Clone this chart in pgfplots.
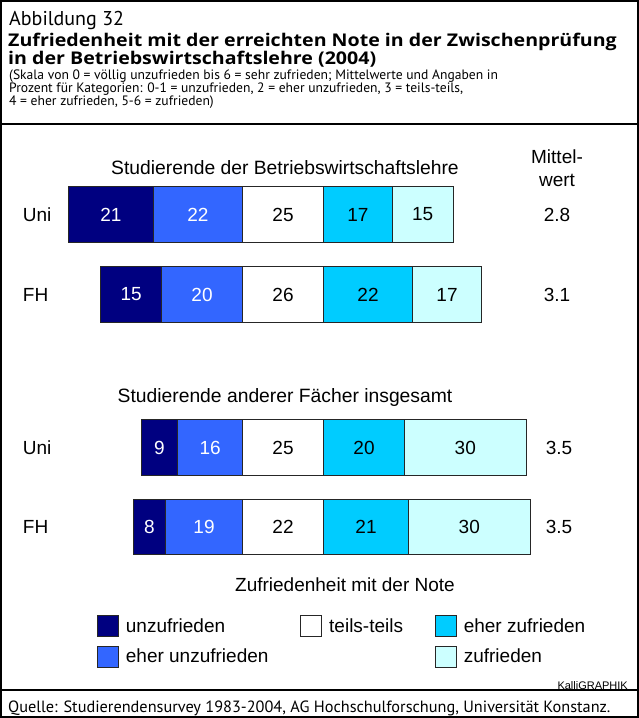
\documentclass[border=0pt]{standalone}
\usepackage{pgfplots}
\pgfplotsset{compat=1.18}
\usepackage{pgfplotstable}
\usepackage{fontspec}
\setmainfont{Liberation Sans}
\newfontfamily\hdr{PT Sans}
\newfontfamily\hdrb{Open Sans}[FakeStretch=1.12]
\definecolor{cU}{HTML}{000080}
\definecolor{cEU}{HTML}{3366FF}
\definecolor{cEZ}{HTML}{00CCFF}
\definecolor{cZ}{HTML}{CCFFFF}

% y = vertical position of bar (px from top); u, eu, tt, ez, z = percent; tw = drawn width of the centred teils-teils box
\pgfplotstableread{
y     u   eu  tt  tw  ez  z
214.5 21  22  25  20  17  15
294.5 15  20  26  20  22  17
447.5 9   16  25  20  20  30
527.0 8   19  22  20  21  30
}\data

\newcommand{\fs}[1]{\fontsize{#1}{#1}\selectfont}
% picture pixel (x, y from top)
\newcommand{\px}[2]{(#1pt,{(718-#2)*1pt})}

\begin{document}
\begin{tikzpicture}
\useasboundingbox (0pt,0pt) rectangle (639pt,718pt);
\begin{axis}[
  scale only axis, width=639pt, height=718pt,
  xmin=-9.877, xmax=147.901, ymin=0, ymax=718, y dir=reverse,
  hide axis, clip=false,
  xbar stacked, bar width=55.6,
  seg/.style={draw=black!85, line width=0.7pt,
    nodes near coords, point meta=explicit symbolic,
    every node near coord/.append style={anchor=center, font=\fs{19}}},
  legend columns=3,
  legend cell align=left,
  legend image code/.code={\draw[#1, draw=black!85, line width=0.7pt] (0pt,-10.5pt) rectangle (21pt,10.5pt);},
  legend style={at={(0.1471,0.1462)}, anchor=north west, draw=none, fill=none,
    font=\fs{19}, row sep=9pt,
    /tikz/every odd column/.append style={column sep=5pt},
    /tikz/every even column/.append style={column sep=30pt}},
]
\addlegendimage{fill=cU}\addlegendentry{unzufrieden}
\addlegendimage{fill=white}\addlegendentry{teils-teils}
\addlegendimage{fill=cEZ}\addlegendentry{eher zufrieden}
\addlegendimage{fill=cEU}\addlegendentry{eher unzufrieden}
\addlegendimage{empty legend}\addlegendentry{}
\addlegendimage{fill=cZ}\addlegendentry{zufrieden}

\addplot[draw=none, fill=none] table[x expr={50-\thisrow{u}-\thisrow{eu}}, y=y] {\data};
\addplot[fill=cU, seg, every node near coord/.append style={text=white}] table[x=u, y=y, meta=u] {\data};
\addplot[fill=cEU, seg, every node near coord/.append style={text=white}] table[x=eu, y=y, meta=eu] {\data};
\addplot[fill=white, seg] table[x=tw, y=y, meta=tt] {\data};
\addplot[fill=cEZ, seg] table[x=ez, y=y, meta=ez] {\data};
\addplot[fill=cZ, seg] table[x=z, y=y, meta=z] {\data};
\end{axis}

% frame
\draw[line width=2pt] \px{1}{1} rectangle \px{638}{717};
\draw[line width=2.5pt] \px{0}{124} -- \px{639}{124};
\draw[line width=1.5pt] \px{0}{690} -- \px{639}{690};

% header
\node[anchor=base west, inner sep=0, font=\hdr\fs{20}] at \px{9}{26} {Abbildung 32};
\node[anchor=base west, inner sep=0, font=\hdrb\bfseries\fs{17.5}] at \px{8}{47} {Zufriedenheit mit der erreichten Note in der Zwischenprüfung};
\node[anchor=base west, inner sep=0, font=\hdrb\bfseries\fs{17.5}] at \px{8}{64.5} {in der Betriebswirtschaftslehre (2004)};
\node[anchor=base west, inner sep=0, font=\hdr\fs{13.6}] at \px{9}{80} {(Skala von 0 = völlig unzufrieden bis 6 = sehr zufrieden; Mittelwerte und Angaben in};
\node[anchor=base west, inner sep=0, font=\hdr\fs{13.6}] at \px{9}{93} {Prozent für Kategorien: 0-1 = unzufrieden, 2 = eher unzufrieden, 3 = teils-teils,};
\node[anchor=base west, inner sep=0, font=\hdr\fs{13.6}] at \px{9}{106} {4 = eher zufrieden, 5-6 = zufrieden)};

% group titles and labels
\node[font=\fs{19.3}] at \px{285}{168} {Studierende der Betriebswirtschaftslehre};
\node[font=\fs{19.3}] at \px{285}{398} {Studierende anderer Fächer insgesamt};
\node[font=\fs{19}] at \px{557}{157} {Mittel-};
\node[font=\fs{19}] at \px{557}{180} {wert};
\node[anchor=west, inner sep=0, font=\fs{19}] at \px{22.7}{215} {Uni};
\node[anchor=west, inner sep=0, font=\fs{19}] at \px{22.7}{295} {FH};
\node[anchor=west, inner sep=0, font=\fs{19}] at \px{22.7}{448} {Uni};
\node[anchor=west, inner sep=0, font=\fs{19}] at \px{22.7}{527} {FH};
\node[font=\fs{19}] at \px{557}{215} {2.8};
\node[font=\fs{19}] at \px{557}{295} {3.1};
\node[font=\fs{19}] at \px{559}{448} {3.5};
\node[font=\fs{19}] at \px{559}{527} {3.5};
\node[font=\fs{19}] at \px{345}{585} {Zufriedenheit mit der Note};
\node[anchor=east, inner sep=0, font=\fs{11}] at \px{628}{686} {KalliGRAPHIK};
\node[anchor=west, inner sep=0, font=\hdr\fs{16.3}] at \px{8}{708} {Quelle: Studierendensurvey 1983-2004, AG Hochschulforschung, Universität Konstanz.};
\end{tikzpicture}
\end{document}
